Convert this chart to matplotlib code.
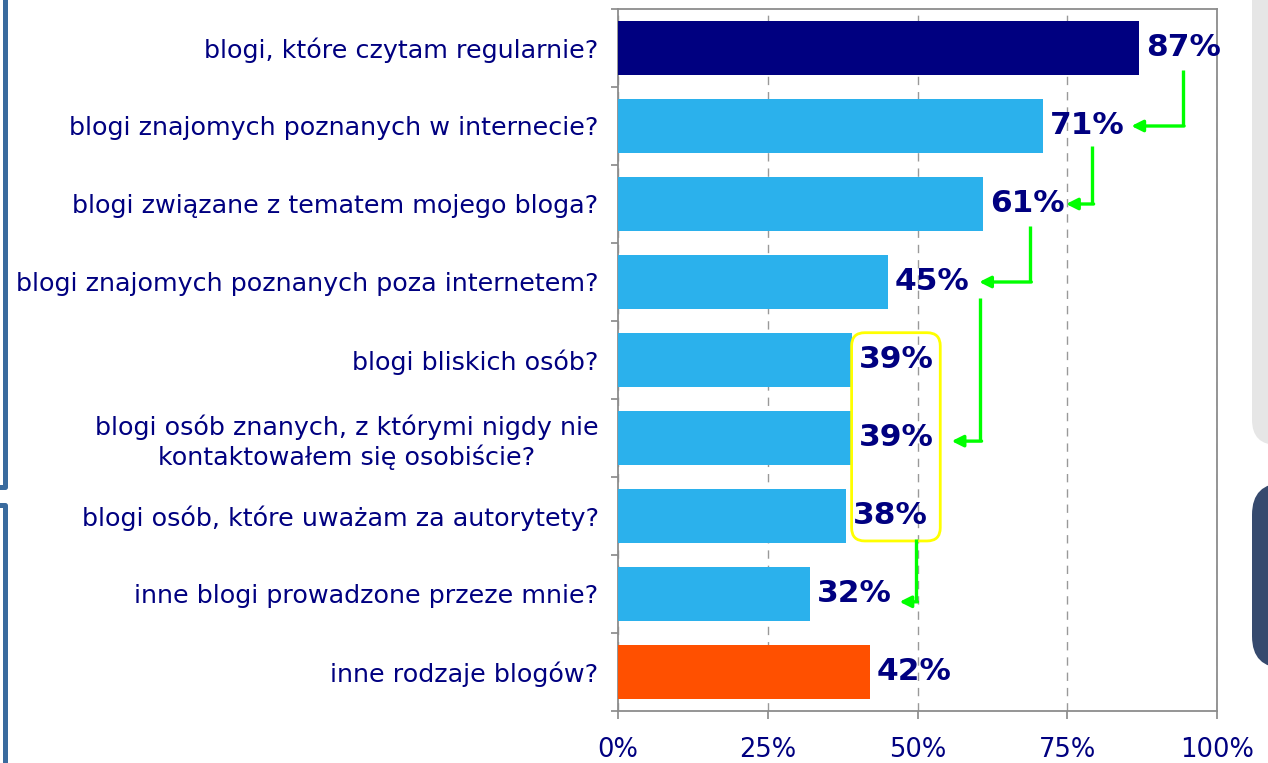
import numpy as np
import matplotlib
matplotlib.use("Agg")
import matplotlib.pyplot as plt
from matplotlib.patches import FancyBboxPatch
from matplotlib.lines import Line2D

kategorie = [
    "blogi, które czytam regularnie?",
    "blogi znajomych poznanych w internecie?",
    "blogi związane z tematem mojego bloga?",
    "blogi znajomych poznanych poza internetem?",
    "blogi bliskich osób?",
    "blogi osób znanych, z którymi nigdy nie\nkontaktowałem się osobiście?",
    "blogi osób, które uważam za autorytety?",
    "inne blogi prowadzone przeze mnie?",
    "inne rodzaje blogów?",
]
wartosci = [87, 71, 61, 45, 39, 39, 38, 32, 42]
kolory = ["#000080"] + ["#2BB1EC"] * 7 + ["#FF5000"]
osX = [0, 25, 50, 75, 100]

# strzalki: (x pionowej linii, y start, y koniec, x grotu)
strzalki = [
    (94.3, 0.28, 1.0, 85.7),
    (79.2, 1.26, 2.0, 74.8),
    (68.8, 2.28, 3.0, 60.3),
    (60.5, 3.20, 5.04, 55.7),
    (49.8, 6.30, 7.10, 47.0),
]

GRANAT = "#000080"
ZIELONY = "#00FF00"

W, H = 1268, 763
fig = plt.figure(figsize=(W / 100, H / 100), dpi=100)
plt.rcParams['font.family'] = ['DejaVu Sans']

ax = fig.add_axes([618 / W, 1 - 711 / H, 599 / W, 702 / H])
y = np.arange(len(kategorie))
ax.barh(y, wartosci, height=0.69, color=kolory, zorder=3)
ax.set_xlim(0, 100)
ax.set_ylim(len(kategorie) - 0.5, -0.5)

ax.set_yticks(y)
ax.set_yticklabels(kategorie, fontsize=18.3, color=GRANAT, multialignment="center")
ax.set_yticks(np.arange(-0.5, len(kategorie), 1), minor=True)
ax.tick_params(axis="y", which="major", length=0, pad=14)
ax.tick_params(axis="y", which="minor", length=5, color="#888888", width=1.2)
ax.set_xticks(osX)
ax.set_xticklabels([f"{v}%" for v in osX], fontsize=18.5, color=GRANAT)
ax.tick_params(axis="x", length=6, color="#888888", width=1.2, pad=13)

for s in ax.spines.values():
    s.set_color("#8C8C8C")
    s.set_linewidth(1.3)

ax.xaxis.grid(True, linestyle=(0, (6, 5)), color="#999999", linewidth=1.0, zorder=0)
ax.set_axisbelow(True)

for i, v in enumerate(wartosci):
    ax.annotate(f"{v}%", xy=(v, i), xytext=(5, 0), textcoords="offset points",
                ha="left", va="center", fontsize=22.5, fontweight="bold",
                color=GRANAT, zorder=5)

# zolta ramka wokol 39%, 39%, 38%
ramka = FancyBboxPatch((39.0, 3.65), 14.8, 2.67,
                       boxstyle="round,pad=0,rounding_size=2.2",
                       mutation_aspect=1 / 13, fill=False,
                       edgecolor="#FFFF00", linewidth=2.0, zorder=6,
                       clip_on=False)
ax.add_patch(ramka)

for xv, y0, y1, xt in strzalki:
    ax.plot([xv, xv], [y0, y1], color=ZIELONY, lw=2.4, zorder=6,
            solid_capstyle="butt", clip_on=False)
    ax.annotate("", xy=(xt, y1), xytext=(xv + 0.2, y1),
                arrowprops=dict(arrowstyle="-|>", color=ZIELONY, lw=2.4,
                                mutation_scale=17, shrinkA=0, shrinkB=0),
                zorder=6, annotation_clip=False)

# ozdobne elementy slajdu po bokach
niebieski = "#3A6B9E"
fig.add_artist(Line2D([0 / W, 5 / W, 5 / W], [1 - 487 / H, 1 - 487 / H, 1.0],
                      transform=fig.transFigure, color=niebieski, lw=3.6))
fig.add_artist(Line2D([0 / W, 5 / W, 5 / W], [1 - 505 / H, 1 - 505 / H, 0.0],
                      transform=fig.transFigure, color=niebieski, lw=3.6))

szary = FancyBboxPatch((1252 / W, 1 - 445 / H), 40 / W, 470 / H,
                       boxstyle="round,pad=0,rounding_size=0.02",
                       mutation_aspect=W / H, transform=fig.transFigure,
                       facecolor="#E6E6E6", edgecolor="none")
fig.add_artist(szary)
ciemny = FancyBboxPatch((1252 / W, 1 - 668 / H), 60 / W, 185 / H,
                        boxstyle="round,pad=0,rounding_size=0.025",
                        mutation_aspect=W / H, transform=fig.transFigure,
                        facecolor="#364A6E", edgecolor="none")
fig.add_artist(ciemny)

fig.savefig("out.png", dpi=100)
